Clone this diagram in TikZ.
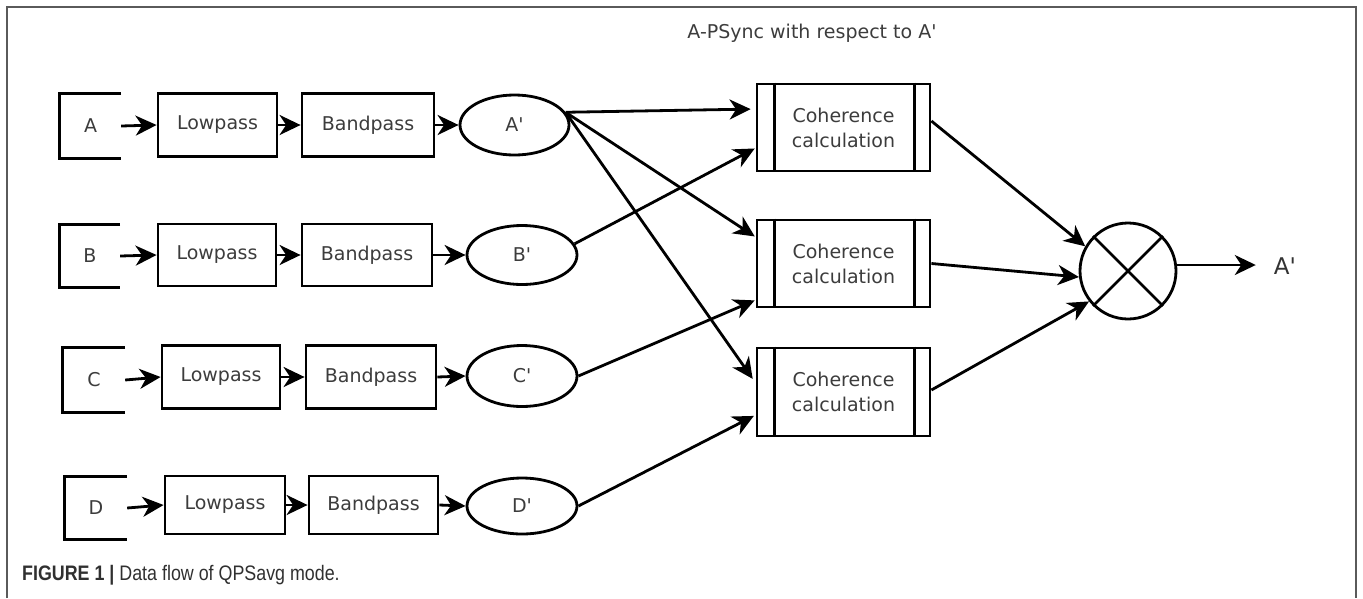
\documentclass[tikz,border=0pt]{standalone}
\usepackage{fontspec}
\setmainfont{DejaVu Sans}
\newfontfamily\capfont[FakeStretch=0.85]{Liberation Sans}
\usetikzlibrary{arrows.meta,shapes.geometric,calc}
\definecolor{txt}{HTML}{3C3C3C}
\definecolor{framec}{HTML}{5A5A5A}
\newcommand{\myap}{\textquotesingle}
\begin{document}
\begin{tikzpicture}[x=1pt,y=-1pt,
  lw/.style={line width=2.8pt},
  lbl/.style={text=txt,font=\fontsize{19}{23}\selectfont},
  box/.style={draw,lw,inner sep=0pt,lbl},
  ell/.style={ellipse,draw,lw,inner sep=0pt,lbl},
  brk/.style={inner sep=0pt,lbl},
  coh/.style={box,minimum width=173pt,minimum height=87pt,align=center,font=\fontsize{19}{25}\selectfont},
  arr/.style={lw,-{Stealth[length=21pt,width=20pt,inset=6.5pt]}},
  bracket/.style={lw}
]
\useasboundingbox (0,0) rectangle (1363,598);
% frame
\draw[framec,line width=1.3pt] (7,598) -- (7,7) -- (1356,7) -- (1356,598);
% title
\node[lbl] (title) at (812,33) {A-PSync with respect to A\myap};

% Row A
\node[brk,minimum width=61pt,minimum height=65pt] (inA) at (90.5,126) {A};
\node[box,minimum width=119pt,minimum height=63pt] (lpA) at (217.5,125) {Lowpass};
\node[box,minimum width=132pt,minimum height=63pt] (bpA) at (368,125) {Bandpass};
\node[ell,minimum width=109pt,minimum height=60pt] (eA) at (514.5,125) {A\myap};
% Row B
\node[brk,minimum width=60pt,minimum height=63pt] (inB) at (90,256) {B};
\node[box,minimum width=118pt,minimum height=62pt] (lpB) at (217,255) {Lowpass};
\node[box,minimum width=130pt,minimum height=62pt] (bpB) at (367,255) {Bandpass};
\node[ell,minimum width=110pt,minimum height=59pt] (eB) at (522,255) {B\myap};
% Row C
\node[brk,minimum width=62pt,minimum height=65pt] (inC) at (94,380) {C};
\node[box,minimum width=118pt,minimum height=63pt] (lpC) at (221,377) {Lowpass};
\node[box,minimum width=130pt,minimum height=63pt] (bpC) at (371,377) {Bandpass};
\node[ell,minimum width=110pt,minimum height=61pt] (eC) at (522,376) {C\myap};
% Row D
\node[brk,minimum width=62pt,minimum height=62pt] (inD) at (96,508) {D};
\node[box,minimum width=120pt,minimum height=58pt] (lpD) at (225,505) {Lowpass};
\node[box,minimum width=129pt,minimum height=58pt] (bpD) at (373.5,505) {Bandpass};
\node[ell,minimum width=110pt,minimum height=56pt] (eD) at (522,506) {D\myap};

% brackets
\foreach \n in {inA,inB,inC,inD}{
  \draw[bracket] (\n.north east) -- (\n.north west) -- (\n.south west) -- (\n.south east);
}
% row arrows
\foreach \r in {A,B,C,D}{
  \draw[arr] (in\r.east) -- (lp\r.west);
  \draw[arr] (lp\r.east) -- (bp\r.west);
  \draw[arr] (bp\r.east) -- (e\r.west);
}

% coherence boxes
\node[coh] (c1) at (843.5,127.5) {Coherence\\calculation};
\node[coh] (c2) at (843.5,263.5) {Coherence\\calculation};
\node[coh,minimum height=88pt] (c3) at (843.5,392) {Coherence\\calculation};
\foreach \c in {c1,c2,c3}{
  \draw[lw] ([xshift=18.5pt]\c.north west) -- ([xshift=18.5pt]\c.south west);
  \draw[lw] ([xshift=-17pt]\c.north east) -- ([xshift=-17pt]\c.south east);
}

% connectors to coherence
\draw[arr,shorten >=5pt] (eA.14) -- ([yshift=18.5pt]c1.west);
\draw[arr,shorten >=1pt] (eA.14) -- ([yshift=26.5pt]c2.west);
\draw[arr,shorten >=5pt] (eA.14) -- ([yshift=9pt]c3.west);
\draw[arr,shorten >=1pt] (eB.12) -- ([yshift=-20.5pt]c1.west);
\draw[arr,shorten >=1pt] (eC.east) -- ([yshift=-36.5pt]c2.west);
\draw[arr,shorten >=2pt] (eD.east) -- ([yshift=-23pt]c3.west);

% combiner
\node[circle,draw,lw,minimum size=96pt,inner sep=0pt] (circ) at (1128,271) {};
\draw[lw] (circ.45) -- (circ.225);
\draw[lw] (circ.135) -- (circ.315);
\draw[arr] ([yshift=6.5pt]c1.east) -- (circ.150);
\draw[arr] (c2.east) -- (circ.187);
\draw[arr] ([yshift=2pt]c3.east) -- (circ.218);

% output
\node[text=txt!85!black,font=\fontsize{23}{27}\selectfont,inner sep=1pt] (Aout) at (1285,266) {A\myap};
\draw[arr,shorten >=17pt] ([yshift=6pt]circ.east) -- ([yshift=1pt]Aout.west);

% caption
\node[anchor=west,inner sep=0pt,text=txt!80!black,font=\capfont\fontsize{21}{25}\selectfont] (cap) at (22,575) {\textbf{FIGURE 1 |} Data flow of QPSavg mode.};
\end{tikzpicture}
\end{document}
